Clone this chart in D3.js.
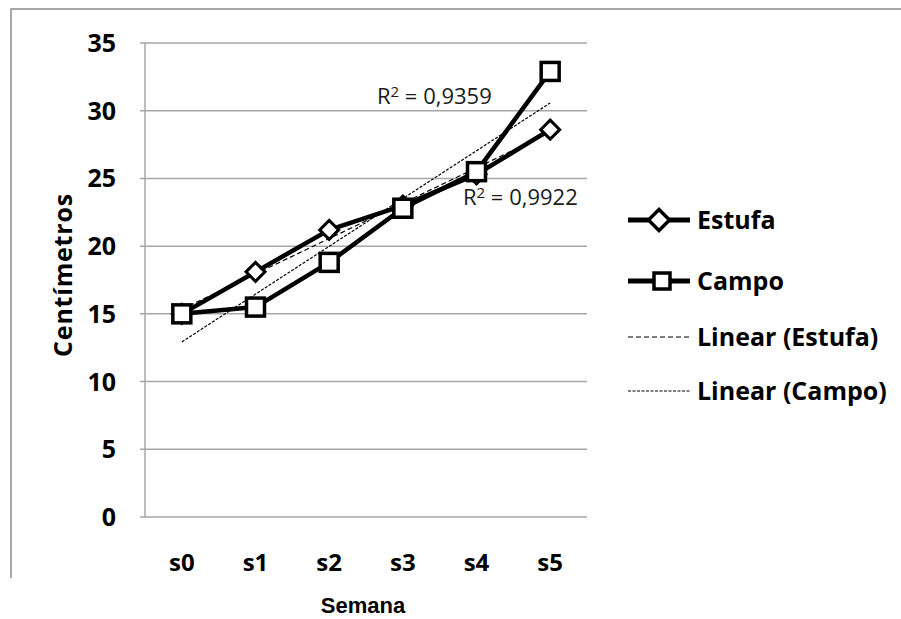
<!DOCTYPE html>
<html>
<head>
<meta charset="utf-8">
<script src="https://cdn.jsdelivr.net/npm/d3@7"></script>
<style>
  body { margin: 0; background: #fff; }
  text { font-family: "Open Sans", "Noto Sans", sans-serif; }
</style>
</head>
<body>
<div id="chart"></div>
<script>
var semanas = ["s0", "s1", "s2", "s3", "s4", "s5"];
var estufa = [15, 18.1, 21.2, 23.0, 25.3, 28.6];
var campo = [15, 15.5, 18.8, 22.8, 25.5, 32.9];
var yTicks = [0, 5, 10, 15, 20, 25, 30, 35];
var r2Labels = ["0,9359", "0,9922"];

var W = 901, H = 619;
var plot = {left: 145, right: 587, top: 43, bottom: 517};

var svg = d3.select("#chart").append("svg")
  .attr("width", W).attr("height", H);

// outer frame (only top and left edges visible)
svg.append("path")
  .attr("d", "M11,578V9H901")
  .style("fill", "none")
  .style("stroke", "#8c8c8c")
  .style("stroke-width", 1.5);

var x = d3.scaleBand().domain(semanas).range([plot.left, plot.right]);
var y = d3.scaleLinear().domain([0, 35]).range([plot.bottom, plot.top]);
var cx = function(s) { return x(s) + x.bandwidth() / 2; };

// gridlines
svg.append("g").selectAll("line")
  .data(yTicks.filter(function(d) { return d > 0; })).enter()
  .append("line")
  .attr("x1", plot.left - 5).attr("x2", plot.right)
  .attr("y1", function(d) { return y(d); })
  .attr("y2", function(d) { return y(d); })
  .style("stroke", "#a6a6a6").style("stroke-width", 1.5);

// axes lines
svg.append("line")
  .attr("x1", plot.left).attr("x2", plot.left)
  .attr("y1", plot.top).attr("y2", plot.bottom)
  .style("stroke", "#a6a6a6").style("stroke-width", 1.5);
svg.append("line")
  .attr("x1", plot.left - 5).attr("x2", plot.right)
  .attr("y1", plot.bottom).attr("y2", plot.bottom)
  .style("stroke", "#a6a6a6").style("stroke-width", 1.5);

// y tick labels
svg.append("g").selectAll("text")
  .data(yTicks).enter()
  .append("text")
  .attr("x", 116)
  .attr("y", function(d) { return y(d); })
  .attr("dy", "0.36em")
  .attr("text-anchor", "end")
  .style("font-size", "25px").style("font-weight", "bold")
  .text(function(d) { return d; });

// x tick labels
svg.append("g").selectAll("text")
  .data(semanas).enter()
  .append("text")
  .attr("x", function(d) { return cx(d); })
  .attr("y", 562)
  .attr("dy", "0.36em")
  .attr("text-anchor", "middle")
  .style("font-size", "24px").style("font-weight", "bold")
  .text(function(d) { return d; });

// axis titles
svg.append("text")
  .attr("transform", "translate(72,275) rotate(-90)")
  .attr("text-anchor", "middle")
  .style("font-size", "25px").style("font-weight", "bold")
  .style("letter-spacing", "0.8px")
  .text("Centímetros");
svg.append("text")
  .attr("x", 363).attr("y", 613)
  .attr("text-anchor", "middle")
  .style("font-family", "'Liberation Sans Narrow', 'Liberation Sans', sans-serif")
  .style("font-size", "22px").style("font-weight", "bold")
  .text("Semana");

// linear trend (least squares)
function trend(vals) {
  var n = vals.length, mx = (n - 1) / 2, my = d3.mean(vals), sxy = 0, sxx = 0;
  vals.forEach(function(v, i) { sxy += (i - mx) * (v - my); sxx += (i - mx) * (i - mx); });
  var b = sxy / sxx, a = my - b * mx;
  return [a, a + b * (n - 1)];
}

var line = d3.line()
  .x(function(d, i) { return cx(semanas[i]); })
  .y(function(d) { return y(d); });

// series lines
[estufa, campo].forEach(function(s) {
  svg.append("path")
    .attr("d", line(s))
    .style("fill", "none").style("stroke", "#000")
    .style("stroke-width", 4.5).style("stroke-linejoin", "round");
});

// trend lines
function trendLine(vals, dash) {
  var t = trend(vals);
  svg.append("line")
    .attr("x1", cx(semanas[0])).attr("y1", y(t[0]))
    .attr("x2", cx(semanas[semanas.length - 1])).attr("y2", y(t[1]))
    .style("stroke", "#000").style("stroke-width", 1.2)
    .style("stroke-dasharray", dash);
}
trendLine(estufa, "5,3");
trendLine(campo, "3,1.5");

// markers
var diamond = "M0,-9.5L9.5,0L0,9.5L-9.5,0Z";
svg.append("g").selectAll("path")
  .data(estufa).enter()
  .append("path")
  .attr("d", diamond)
  .attr("transform", function(d, i) { return "translate(" + cx(semanas[i]) + "," + y(d) + ")"; })
  .style("fill", "#fff").style("stroke", "#000").style("stroke-width", 3);

svg.append("g").selectAll("rect")
  .data(campo).enter()
  .append("rect")
  .attr("x", function(d, i) { return cx(semanas[i]) - 9; })
  .attr("y", function(d) { return y(d) - 9; })
  .attr("width", 18).attr("height", 18)
  .style("fill", "#fff").style("stroke", "#000").style("stroke-width", 3.5);

// R² labels
var r2Pos = [[377, 104], [463, 205]];
r2Labels.forEach(function(lbl, i) {
  var t = svg.append("text")
    .attr("x", r2Pos[i][0]).attr("y", r2Pos[i][1])
    .style("font-size", "22px").style("fill", "#1a1a1a");
  t.append("tspan").text("R");
  t.append("tspan").attr("dy", -7).style("font-size", "15px").text("2");
  t.append("tspan").attr("dy", 7).text(" = " + lbl);
});

// legend
var legendItems = [
  {name: "Estufa", type: "diamond", y: 220},
  {name: "Campo", type: "square", y: 281},
  {name: "Linear (Estufa)", type: "dash", dash: "5,3", y: 337},
  {name: "Linear (Campo)", type: "dash", dash: "3,1.5", y: 391}
];
legendItems.forEach(function(it) {
  var g = svg.append("g");
  if (it.type === "dash") {
    g.append("line").attr("x1", 628).attr("x2", 690).attr("y1", it.y).attr("y2", it.y)
      .style("stroke", "#000").style("stroke-width", 1.2).style("stroke-dasharray", it.dash);
  } else {
    g.append("line").attr("x1", 628).attr("x2", 690).attr("y1", it.y).attr("y2", it.y)
      .style("stroke", "#000").style("stroke-width", 5);
    if (it.type === "diamond") {
      g.append("path").attr("d", "M0,-10.5L10.5,0L0,10.5L-10.5,0Z")
        .attr("transform", "translate(659," + it.y + ")")
        .style("fill", "#fff").style("stroke", "#000").style("stroke-width", 3.5);
    } else {
      g.append("rect").attr("x", 654).attr("y", it.y - 8).attr("width", 16).attr("height", 16)
        .style("fill", "#fff").style("stroke", "#000").style("stroke-width", 3.5);
    }
  }
  g.append("text").attr("x", 697).attr("y", it.y).attr("dy", "0.36em")
    .style("font-size", "25px").style("font-weight", "bold")
    .text(it.name);
});
</script>
</body>
</html>
